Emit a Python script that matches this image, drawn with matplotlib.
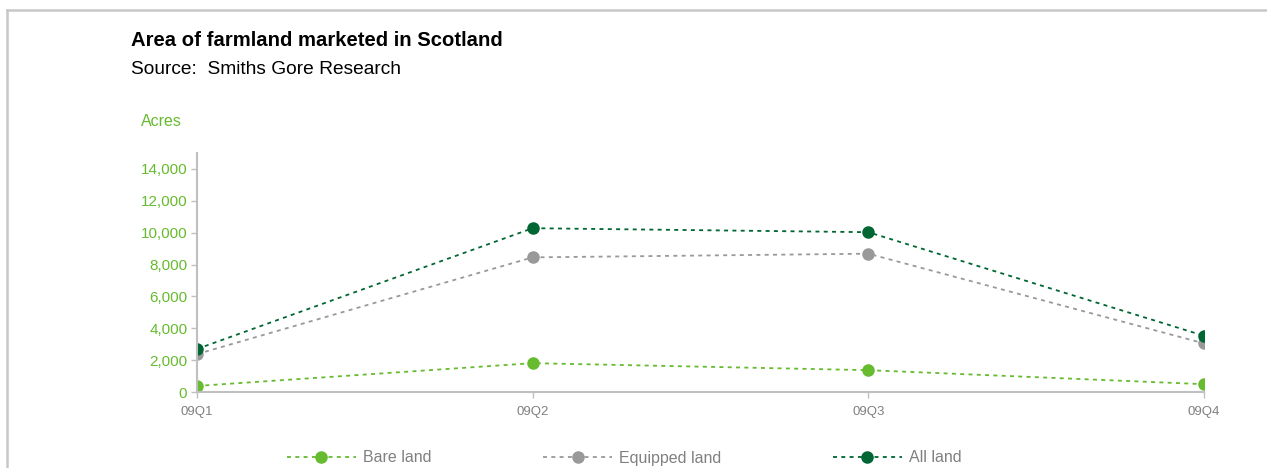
import matplotlib.pyplot as plt
from matplotlib.lines import Line2D

plt.rcParams['font.family'] = ['Liberation Sans', 'DejaVu Sans']

# data
quarters = ['09Q1', '09Q2', '09Q3', '09Q4']
bare_land = [380, 1810, 1370, 490]
equipped_land = [2380, 8450, 8680, 3050]
all_land = [2700, 10280, 10030, 3530]
y_ticks = [0, 2000, 4000, 6000, 8000, 10000, 12000, 14000]

GREEN = '#66BB2E'
GREY = '#999999'
DARK = '#006633'
SPINE = '#BFBFBF'

fig = plt.figure(figsize=(12.67, 4.68), dpi=100)
ax = fig.add_axes([197 / 1267, 1 - 392 / 468, (1204 - 197) / 1267, (392 - 153) / 468])

x = range(len(quarters))
dash = (0, (2.2, 2.4))
series = [('Bare land', bare_land, GREEN),
          ('Equipped land', equipped_land, GREY),
          ('All land', all_land, DARK)]
for name, vals, col in series:
    ax.plot(x, vals, linestyle=dash, color=col, linewidth=1.3,
            marker='o', markersize=8, markeredgecolor=col, label=name)

ax.set_xlim(0, len(quarters) - 1)
ax.set_ylim(0, 15000)
ax.set_yticks(y_ticks)
ax.set_yticklabels([f'{v:,}' for v in y_ticks])
ax.set_xticks(list(x))
ax.set_xticklabels(quarters)

for s in ['top', 'right']:
    ax.spines[s].set_visible(False)
for s in ['left', 'bottom']:
    ax.spines[s].set_color(SPINE)
    ax.spines[s].set_linewidth(1.5)
ax.tick_params(axis='y', colors=SPINE, labelcolor=GREEN, labelsize=11,
               length=4, width=1, pad=3)
ax.tick_params(axis='x', colors=SPINE, labelcolor='#808080', labelsize=9.5,
               length=4, width=1, pad=6)

# titles
fig.text(131 / 1267, 1 - 41 / 468, 'Area of farmland marketed in Scotland',
         fontsize=14.6, fontweight='bold', va='center', ha='left')
fig.text(131 / 1267, 1 - 69 / 468, 'Source:  Smiths Gore Research',
         fontsize=13.8, va='center', ha='left')
fig.text(141 / 1267, 1 - 122 / 468, 'Acres', fontsize=11.5, color=GREEN,
         va='center', ha='left')

# legend
leg = fig.legend(loc='center left', bbox_to_anchor=(287 / 1267, 1 - 458 / 468),
                 ncol=3, frameon=False, fontsize=11.5, handlelength=4.3,
                 handletextpad=0.45, columnspacing=7.0, borderpad=0,
                 borderaxespad=0)
for t in leg.get_texts():
    t.set_color('#808080')

# outer border (top and left edges)
fig.add_artist(Line2D([7 / 1267, 1], [1 - 10 / 468, 1 - 10 / 468],
                      color='#C8C8C8', linewidth=1.8, transform=fig.transFigure))
fig.add_artist(Line2D([7 / 1267, 7 / 1267], [0, 1 - 10 / 468],
                      color='#C8C8C8', linewidth=1.8, transform=fig.transFigure))

fig.savefig('out.png', dpi=100)
